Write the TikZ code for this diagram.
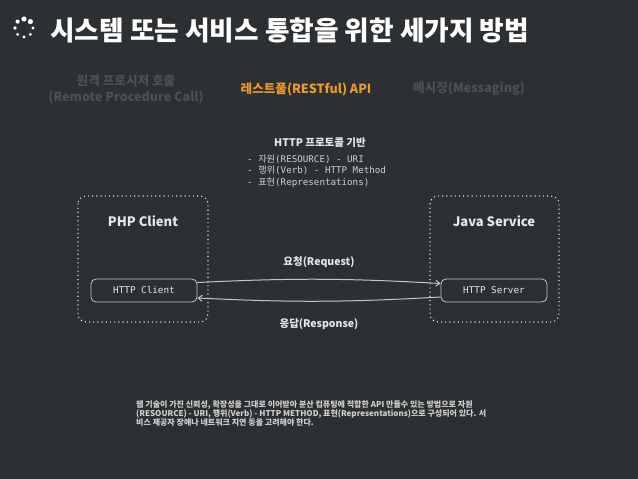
\documentclass[tikz,border=0pt]{standalone}
\usepackage{fontspec}
\setmainfont{Noto Sans CJK KR}
\newfontfamily\monokr{DejaVu Sans Mono}
\usetikzlibrary{arrows.meta,calc}
\newcommand\tightlns{\lineskiplimit=-20pt\relax\lineskip=0pt\relax}
\definecolor{bg}{HTML}{2D3032}
\definecolor{tabdim}{HTML}{4C5053}
\definecolor{tabon}{HTML}{EC9A2E}
\definecolor{txt}{HTML}{E6E6E6}
\definecolor{para}{HTML}{D0D0D0}
\definecolor{line}{HTML}{C4C4C4}
\tikzset{
  dotbox/.style={draw=white, line width=1.4pt, dash pattern=on 0pt off 4.2pt, line cap=round, rounded corners=8pt},
  httpbox/.style={draw=line, line width=0.8pt, rounded corners=5pt, minimum width=106pt, minimum height=23pt, inner sep=0pt, text=txt, font=\monokr\fontsize{9.3}{10}\selectfont},
  tabtxt/.style={font=\bfseries\fontsize{12.6}{16}\selectfont, align=center, inner sep=0pt},
  headtxt/.style={text=txt, font=\bfseries\fontsize{13}{15}\selectfont, inner sep=0pt},
  flow/.style={draw=line, line width=1pt, -{Straight Barb[length=4pt,width=6pt]}},
  flowlbl/.style={text=txt, font=\bfseries\fontsize{10.5}{12}\selectfont, inner sep=0pt},
  spin/.style={fill=white, draw=none}
}
\begin{document}
\begin{tikzpicture}[x=1pt,y=-1pt]
\fill[bg] (0,0) rectangle (638,479);
\useasboundingbox (0,0) rectangle (638,479);
% spinner
\fill[spin] (24,19) circle (2.6);
\fill[spin] (30.4,21.6) circle (2.6);
\fill[spin] (33,28) circle (1.7);
\fill[spin] (30.4,34.4) circle (1.6);
\fill[spin] (24,37) circle (1.6);
\fill[spin] (17.6,34.4) circle (1.6);
\fill[spin] (15,28) circle (1.8);
\fill[spin] (17.6,21.6) circle (2.1);
% title
\node[anchor=west, text=white, inner sep=0pt, font=\bfseries\fontsize{26.7}{28}\selectfont] (title) at (50,30) {시스템 또는 서비스 통합을 위한 세가지 방법};
% tabs
\node[tabtxt, text=tabdim] (rpc) at (126,89) {원격 프로시저 호출\\(Remote Procedure Call)};
\node[tabtxt, text=tabon] (rest) at (306,89) {레스트풀(RESTful) API};
\node[tabtxt, text=tabdim] (msg) at (469,89) {메시징(Messaging)};
% HTTP protocol list
\node[text=txt, inner sep=0pt, font=\bfseries\fontsize{10.5}{12}\selectfont] (proto) at (320,143) {HTTP 프로토콜 기반};
\node[anchor=north west, text=para, inner sep=0pt, align=left, font=\monokr\fontsize{9.2}{11.5}\selectfont\tightlns] (list) at (247,154.5)
 {- {\rmfamily 자원}(RESOURCE) - URI\\- {\rmfamily 행위}(Verb) - HTTP Method\\- {\rmfamily 표현}(Representations)};
% boxes
\draw[dotbox] (78,196) rectangle (208,322);
\draw[dotbox] (430,196) rectangle (559,322);
\node[headtxt] (php) at (143,221) {PHP Client};
\node[headtxt] (java) at (494,221) {Java Service};
\node[httpbox] (hc) at (144,290.5) {HTTP Client};
\node[httpbox] (hs) at (494,290.5) {HTTP Server};
% flows
\draw[flow] ([yshift=8pt]hc.east) to[bend left=3] node[flowlbl, above=11pt] (req) {요청(Request)} ([yshift=7pt]hs.west);
\draw[flow] ([yshift=-6.5pt]hs.west) to[bend left=3] node[flowlbl, below=17pt] (res) {응답(Response)} ([yshift=-7.5pt]hc.east);
% paragraph
\node[anchor=north west, text=para, inner sep=0pt, align=left, font=\bfseries\fontsize{8}{9}\selectfont\tightlns] (para) at (136,400)
 {웹 기술이 가진 신뢰성, 확장성을 그대로 이어받아 분산 컴퓨팅에 적합한 API 만들수 있는 방법으로 자원\\(RESOURCE) - URI, 행위(Verb) - HTTP METHOD, 표현(Representations)으로 구성되어 있다.  서\\비스 제공자 장애나 네트워크 지연 등을 고려해야 한다.};
\end{tikzpicture}
\end{document}
